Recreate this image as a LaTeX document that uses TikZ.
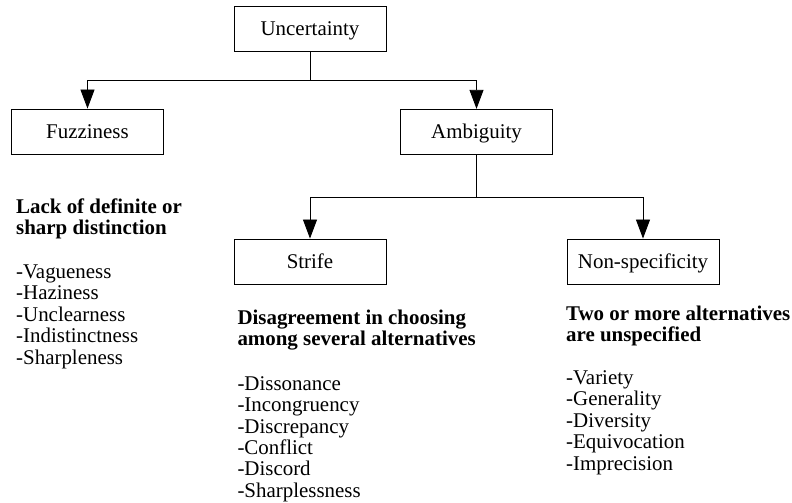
\documentclass[tikz,border=0pt]{standalone}
\usepackage{fontspec}
\setmainfont{Liberation Serif}
\usetikzlibrary{arrows.meta}
\begin{document}
\begin{tikzpicture}[x=1bp,y=-1bp,
  box/.style={draw, line width=0.9bp, minimum width=152bp, minimum height=45bp,
    inner sep=0pt, text height=14bp, text depth=0pt,
    font=\fontsize{21}{21.5}\selectfont},
  link/.style={line width=0.9bp},
  tip/.style={link, -{Triangle[width=14bp,length=19bp]}},
  note/.style={anchor=north west, inner sep=0pt, align=left,
    font=\fontsize{21}{21.5}\selectfont},
  head/.style={note, font=\fontsize{21}{21.5}\selectfont\bfseries}]
\useasboundingbox (0,0) rectangle (792,503);

% boxes
\node[box] (unc) at (310,29)    {Uncertainty};
\node[box] (fuz) at (87.5,131.5)  {Fuzziness};
\node[box] (amb) at (476.5,131.8) {Ambiguity};
\node[box] (str) at (310,261.5) {Strife};
\node[box] (nsp) at (643,261.5) {Non-specificity};

% branch points
\coordinate (j1) at (310,80);
\coordinate (j2) at (476.5,197);

% connectors
\draw[link] (unc.south) -- (j1);
\draw[tip] (j1) -| (fuz.north);
\draw[tip] (j1) -| (amb.north);
\draw[link] (amb.south) -- (j2);
\draw[tip] (j2) -| (str.north);
\draw[tip] (j2) -| (nsp.north);

% descriptions
\node[head] (fuzh) at (16,198.3) {\strut Lack of definite or\\sharp distinction};
\node[note] (fuzl) at (16,263.3) {\strut -Vagueness\\-Haziness\\-Unclearness\\-Indistinctness\\-Sharpleness};

\node[head] (strh) at (237.3,309) {\strut Disagreement in choosing\\among several alternatives};
\node[note] (strl) at (237.3,375) {\strut -Dissonance\\-Incongruency\\-Discrepancy\\-Conflict\\-Discord\\-Sharplessness};

\node[head] (nsph) at (566,305) {\strut Two or more alternatives\\are unspecified};
\node[note] (nspl) at (566,369.3) {\strut -Variety\\-Generality\\-Diversity\\-Equivocation\\-Imprecision};
\end{tikzpicture}
\end{document}
